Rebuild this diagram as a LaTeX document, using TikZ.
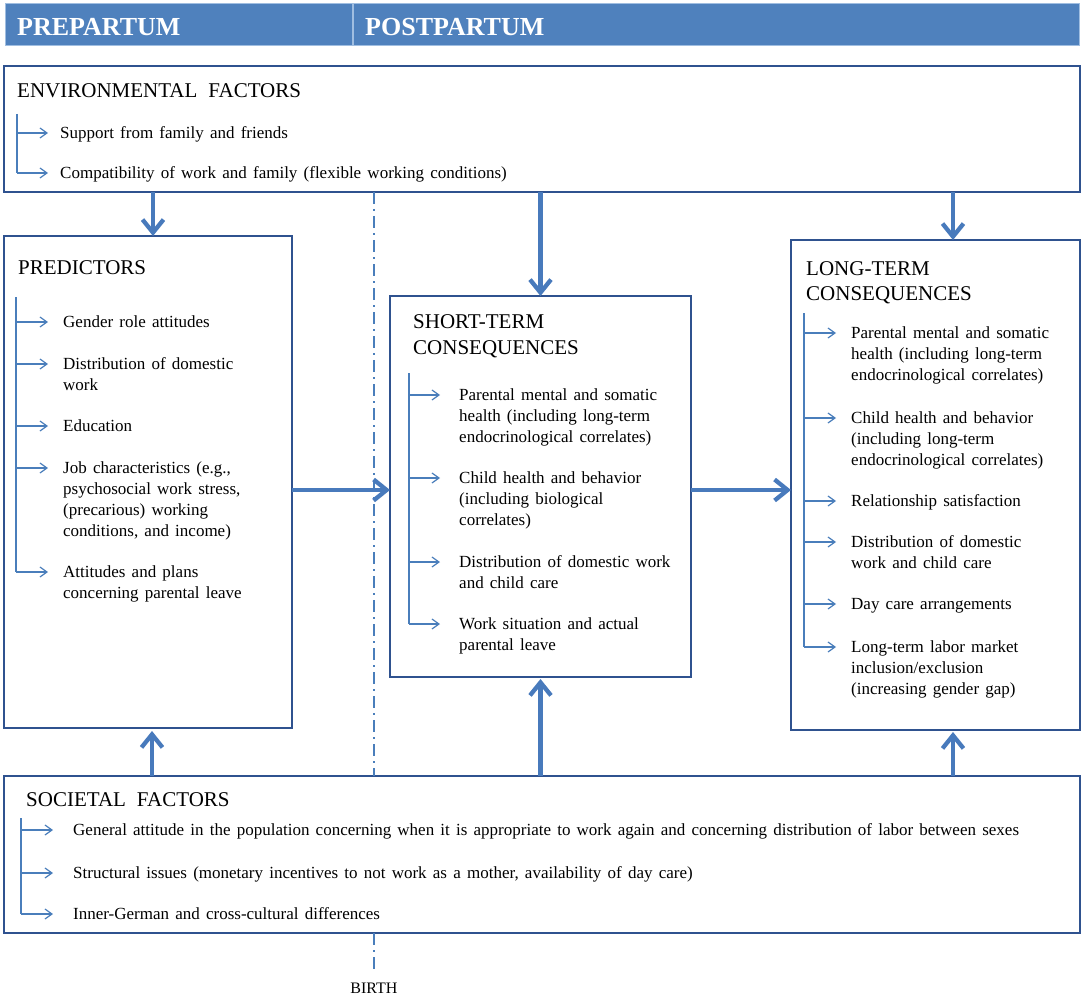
\documentclass[tikz,border=0pt]{standalone}
\usepackage{fontspec}
\setmainfont{Liberation Serif}
\usetikzlibrary{arrows.meta,calc}
\definecolor{boxc}{RGB}{47,82,143}
\definecolor{bulc}{RGB}{74,126,187}
\definecolor{arrc}{RGB}{72,122,188}
\definecolor{hdrfill}{RGB}{79,129,189}
\definecolor{hdrline}{RGB}{160,190,225}
\newcommand\itemfont{\fontsize{17}{21}\selectfont\spaceskip=6.2pt plus 1pt minus 1pt\relax}
\newcommand\titlefont{\fontsize{21}{26}\selectfont}
\newcommand\tsp{\hspace{11pt}}
\newcommand\bitem[6]{%
  \node[itemtext] (#1) at (#4,#5-9.2) {\strut #6};
  \draw[bul] (#2,#5) -- (#3,#5);
}
\tikzset{
  box/.style={draw=boxc, line width=2.5pt, fill=white, inner sep=0pt, outer sep=0pt, anchor=north west},
  hdr/.style={draw=hdrline, line width=1pt, fill=hdrfill, inner sep=0pt, outer sep=0pt, anchor=north west},
  hdrtext/.style={text=white, font=\fontsize{26}{30}\selectfont\bfseries, anchor=base west, inner sep=0pt},
  titletext/.style={font=\titlefont, anchor=north west, inner sep=0pt, align=left},
  itemtext/.style={font=\itemfont, anchor=north west, inner sep=0pt, align=left},
  bul/.style={draw=bulc, line width=1.2pt, -{Straight Barb[length=7pt,width=10pt]}},
  trunk/.style={draw=bulc, line width=1.2pt},
  big/.style={draw=arrc, line width=4.3pt, -{Straight Barb[length=13pt,width=21pt]}},
  birthline/.style={draw=bulc, line width=1.3pt, dash pattern=on 12pt off 5pt on 2pt off 5pt},
}
\begin{document}
\begin{tikzpicture}[x=1pt,y=-1pt]
\useasboundingbox (0,0) rectangle (1084,995);
% header bars
\node[hdr, minimum width=347pt, minimum height=42pt] (hdrpre) at (5,4) {};
\node[hdr, minimum width=726pt, minimum height=42pt] (hdrpost) at (353,4) {};
\node[hdrtext] (tpre) at (17,36) {PREPARTUM};
\node[hdrtext] (tpost) at (365,36) {POSTPARTUM};
% boxes
\node[box, minimum width=1076pt, minimum height=126pt] (env) at (4,66) {};
\node[box, minimum width=288pt, minimum height=492pt] (pred) at (4,236) {};
\node[box, minimum width=301pt, minimum height=381pt] (short) at (390,296) {};
\node[box, minimum width=289pt, minimum height=490pt] (long) at (791,240) {};
\node[box, minimum width=1076pt, minimum height=157pt] (soc) at (4,776) {};
% birth line
\node[font=\fontsize{16}{19}\selectfont, anchor=base, inner sep=0pt] (birth) at (374,993) {BIRTH};
\draw[birthline] (env.south -| birth) -- (soc.north -| birth);
\draw[birthline] (soc.south -| birth) -- ([yshift=12pt]birth.north);
% titles
\node[titletext] (envt) at (17,97-18.2) {\strut ENVIRONMENTAL\tsp FACTORS};
\node[titletext] (predt) at (18,274-18.2) {\strut PREDICTORS};
\node[titletext] (shortt) at (413,328-18.2) {\strut SHORT-TERM\\CONSEQUENCES};
\node[titletext, font=\fontsize{21}{25}\selectfont] (longt) at (806,275-17.5) {\strut LONG-TERM\\CONSEQUENCES};
\node[titletext] (soct) at (26,806-18.2) {\strut SOCIETAL\tsp FACTORS};
% environmental items
\draw[trunk] (17,114) -- (17,173);
\bitem{e1}{17}{48}{60}{133}{Support from family and friends}
\bitem{e2}{17}{48}{60}{173}{Compatibility of work and family (flexible working conditions)}
% predictors
\draw[trunk] (16,297) -- (16,572);
\bitem{p1}{16}{48}{63}{322}{Gender role attitudes}
\bitem{p2}{16}{48}{63}{364}{Distribution of domestic\\work}
\bitem{p3}{16}{48}{63}{426}{Education}
\bitem{p4}{16}{48}{63}{468}{Job characteristics (e.g.,\\psychosocial work stress,\\(precarious) working\\conditions, and income)}
\bitem{p5}{16}{48}{63}{572}{Attitudes and plans\\concerning parental leave}
% short-term
\draw[trunk] (409,373) -- (409,624);
\bitem{s1}{409}{440}{459}{395}{Parental mental and somatic\\health (including long-term\\endocrinological correlates)}
\bitem{s2}{409}{440}{459}{478}{Child health and behavior\\(including biological\\correlates)}
\bitem{s3}{409}{440}{459}{562}{Distribution of domestic work\\and child care}
\bitem{s4}{409}{440}{459}{624}{Work situation and actual\\parental leave}
% long-term
\draw[trunk] (804,313) -- (804,647);
\bitem{l1}{804}{836}{851}{333}{Parental mental and somatic\\health (including long-term\\endocrinological correlates)}
\bitem{l2}{804}{836}{851}{418}{Child health and behavior\\(including long-term\\endocrinological correlates)}
\bitem{l3}{804}{836}{851}{501}{Relationship satisfaction}
\bitem{l4}{804}{836}{851}{542}{Distribution of domestic\\work and child care}
\bitem{l5}{804}{836}{851}{604}{Day care arrangements}
\bitem{l6}{804}{836}{851}{647}{Long-term labor market\\inclusion/exclusion\\(increasing gender gap)}
% societal
\draw[trunk] (21,818) -- (21,914);
\bitem{c1}{21}{53}{73}{830}{General attitude in the population concerning when it is appropriate to work again and concerning distribution of labor between sexes}
\bitem{c2}{21}{53}{73}{873}{Structural issues (monetary incentives to not work as a mother, availability of day care)}
\bitem{c3}{21}{53}{73}{914}{Inner-German and cross-cultural differences}
% big arrows
\draw[big] ([xshift=5pt]pred.north |- env.south) -- ([xshift=5pt]pred.north);
\draw[big] (short.north |- env.south) -- (short.north);
\draw[big] ([xshift=17.5pt]long.north |- env.south) -- ([xshift=17.5pt]long.north);
\draw[big] ([yshift=-8pt]pred.east) -- ([yshift=-8pt]pred.east -| short.west);
\draw[big] ([yshift=-8pt]pred.east -| short.east) -- ([yshift=-8pt]pred.east -| long.west);
\draw[big] ([xshift=4pt]pred.south |- soc.north) -- ([xshift=4pt,yshift=-3pt]pred.south);
\draw[big] (short.south |- soc.north) -- ([yshift=-2pt]short.south);
\draw[big] ([xshift=17.5pt]long.south |- soc.north) -- ([xshift=17.5pt,yshift=-2pt]long.south);
\end{tikzpicture}
\end{document}
